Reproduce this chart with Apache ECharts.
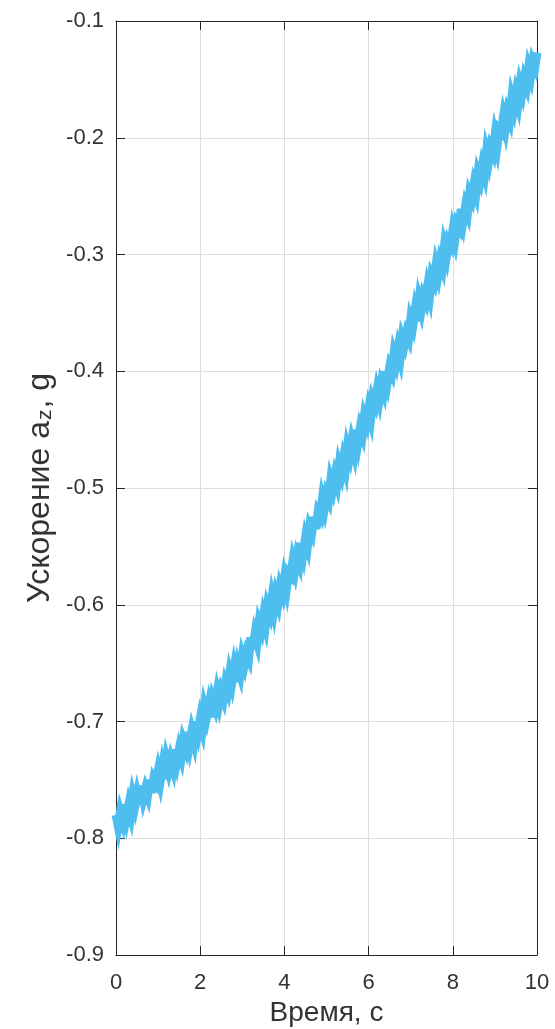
<!DOCTYPE html>
<html>
<head>
<meta charset="utf-8">
<script src="https://cdn.jsdelivr.net/npm/echarts@6/dist/echarts.min.js"></script>
<style>
html,body{margin:0;padding:0;background:#fff;}
#chart{width:555px;height:1029px;}
</style>
</head>
<body>
<div id="chart"></div>
<script>
// Time samples, s
var time = [0,0.05,0.1,0.15,0.2,0.25,0.3,0.35,0.4,0.45,0.5,0.55,0.6,0.65,0.7,0.75,0.8,0.85,0.9,0.95,
1,1.05,1.1,1.15,1.2,1.25,1.3,1.35,1.4,1.45,1.5,1.55,1.6,1.65,1.7,1.75,1.8,1.85,1.9,1.95,
2,2.05,2.1,2.15,2.2,2.25,2.3,2.35,2.4,2.45,2.5,2.55,2.6,2.65,2.7,2.75,2.8,2.85,2.9,2.95,
3,3.05,3.1,3.15,3.2,3.25,3.3,3.35,3.4,3.45,3.5,3.55,3.6,3.65,3.7,3.75,3.8,3.85,3.9,3.95,
4,4.05,4.1,4.15,4.2,4.25,4.3,4.35,4.4,4.45,4.5,4.55,4.6,4.65,4.7,4.75,4.8,4.85,4.9,4.95,
5,5.05,5.1,5.15,5.2,5.25,5.3,5.35,5.4,5.45,5.5,5.55,5.6,5.65,5.7,5.75,5.8,5.85,5.9,5.95,
6,6.05,6.1,6.15,6.2,6.25,6.3,6.35,6.4,6.45,6.5,6.55,6.6,6.65,6.7,6.75,6.8,6.85,6.9,6.95,
7,7.05,7.1,7.15,7.2,7.25,7.3,7.35,7.4,7.45,7.5,7.55,7.6,7.65,7.7,7.75,7.8,7.85,7.9,7.95,
8,8.05,8.1,8.15,8.2,8.25,8.3,8.35,8.4,8.45,8.5,8.55,8.6,8.65,8.7,8.75,8.8,8.85,8.9,8.95,
9,9.05,9.1,9.15,9.2,9.25,9.3,9.35,9.4,9.45,9.5,9.55,9.6,9.65,9.7,9.75,9.8,9.85,9.9,9.95,10];

// Acceleration a_z, g (noisy trace)
var accel = [-0.780,-0.789,-0.778,-0.784,-0.771,-0.781,-0.772,-0.779,-0.765,-0.772,
-0.763,-0.771,-0.755,-0.765,-0.758,-0.763,-0.750,-0.761,-0.749,-0.752,
-0.743,-0.751,-0.740,-0.749,-0.734,-0.741,-0.733,-0.739,-0.724,-0.733,
-0.724,-0.730,-0.717,-0.722,-0.709,-0.719,-0.709,-0.716,-0.700,-0.708,
-0.698,-0.705,-0.689,-0.696,-0.687,-0.696,-0.682,-0.687,-0.676,-0.684,
-0.675,-0.680,-0.668,-0.673,-0.660,-0.667,-0.656,-0.666,-0.653,-0.659,
-0.645,-0.651,-0.642,-0.646,-0.628,-0.638,-0.626,-0.632,-0.616,-0.621,
-0.610,-0.617,-0.602,-0.607,-0.595,-0.604,-0.592,-0.598,-0.585,-0.590,
-0.578,-0.586,-0.573,-0.575,-0.563,-0.570,-0.559,-0.564,-0.547,-0.555,
-0.543,-0.549,-0.534,-0.538,-0.525,-0.535,-0.521,-0.524,-0.510,-0.517,
-0.506,-0.510,-0.494,-0.500,-0.490,-0.496,-0.481,-0.487,-0.476,-0.483,
-0.466,-0.472,-0.461,-0.468,-0.450,-0.460,-0.449,-0.454,-0.439,-0.444,
-0.433,-0.440,-0.424,-0.428,-0.417,-0.424,-0.412,-0.417,-0.400,-0.408,
-0.397,-0.401,-0.386,-0.392,-0.381,-0.388,-0.372,-0.377,-0.368,-0.372,
-0.356,-0.361,-0.349,-0.357,-0.340,-0.347,-0.336,-0.340,-0.328,-0.335,
-0.319,-0.323,-0.310,-0.317,-0.306,-0.311,-0.294,-0.301,-0.289,-0.292,
-0.280,-0.287,-0.274,-0.277,-0.261,-0.270,-0.259,-0.264,-0.248,-0.252,
-0.241,-0.247,-0.231,-0.236,-0.225,-0.231,-0.213,-0.220,-0.209,-0.213,
-0.199,-0.207,-0.193,-0.195,-0.183,-0.191,-0.179,-0.184,-0.167,-0.174,
-0.163,-0.170,-0.155,-0.161,-0.150,-0.155,-0.141,-0.147,-0.135,-0.139,
-0.127];

var xTicks = {min: 0, max: 10, interval: 2};
var yTicks = {min: -0.9, max: -0.1, interval: 0.1};
var xName = 'Время, с';
var yName = '{a|Ускорение a}{s|z}{a|, g}';

var axisColor = '#262626';
var labelColor = '#333333';
var font = '"Liberation Sans", Arial, Helvetica, sans-serif';

var chart = echarts.init(document.getElementById('chart'), null, {renderer: 'canvas'});

function baseAxisLine() {
  return {show: true, onZero: false, lineStyle: {color: axisColor, width: 1}};
}

var option = {
  animation: false,
  backgroundColor: '#ffffff',
  grid: {left: 116, top: 21, right: 18, bottom: 74, containLabel: false, outerBoundsMode: 'none'},
  xAxis: [{
    type: 'value',
    position: 'bottom',
    min: xTicks.min, max: xTicks.max, interval: xTicks.interval,
    name: xName,
    nameLocation: 'middle',
    nameGap: 44,
    nameMoveOverlap: false,
    nameTextStyle: {fontSize: 28, color: labelColor, fontFamily: font},
    axisLine: baseAxisLine(),
    axisTick: {show: true, inside: true, length: 9, lineStyle: {color: axisColor, width: 1}},
    axisLabel: {show: true, margin: 17, fontSize: 22, color: labelColor, fontFamily: font},
    splitLine: {show: true, lineStyle: {color: '#dedede', width: 1}}
  }, {
    type: 'value',
    position: 'top',
    min: xTicks.min, max: xTicks.max, interval: xTicks.interval,
    axisLine: baseAxisLine(),
    axisTick: {show: true, inside: true, length: 9, lineStyle: {color: axisColor, width: 1}},
    axisLabel: {show: false},
    splitLine: {show: false}
  }],
  yAxis: [{
    type: 'value',
    position: 'left',
    min: yTicks.min, max: yTicks.max, interval: yTicks.interval,
    name: yName,
    nameLocation: 'middle',
    nameGap: 60,
    nameMoveOverlap: false,
    nameTextStyle: {
      color: labelColor, fontFamily: font, fontSize: 32,
      rich: {
        a: {fontSize: 32, lineHeight: 32, color: labelColor, fontFamily: font, verticalAlign: 'top', padding: [0, 0, 10, 0]},
        s: {fontSize: 21, lineHeight: 21, color: labelColor, fontFamily: font, verticalAlign: 'bottom', padding: [0, 1, 0, 1]}
      }
    },
    axisLine: baseAxisLine(),
    axisTick: {show: true, inside: true, length: 9, lineStyle: {color: axisColor, width: 1}},
    axisLabel: {show: true, margin: 12, fontSize: 22, color: labelColor, fontFamily: font,
      formatter: function (v) { return (Math.round(v * 10) / 10).toString(); }},
    splitLine: {show: true, lineStyle: {color: '#dedede', width: 1}}
  }, {
    type: 'value',
    position: 'right',
    min: yTicks.min, max: yTicks.max, interval: yTicks.interval,
    axisLine: baseAxisLine(),
    axisTick: {show: true, inside: true, length: 9, lineStyle: {color: axisColor, width: 1}},
    axisLabel: {show: false},
    splitLine: {show: false}
  }],
  series: [{
    type: 'line',
    xAxisIndex: 0,
    yAxisIndex: 0,
    data: time.map(function (t, i) { return [t, accel[i]]; }),
    showSymbol: false,
    symbol: 'none',
    clip: true,
    z: 5,
    lineStyle: {color: '#4DBEEE', width: 9, join: 'miter', miterLimit: 6}
  }]
};

chart.setOption(option);
</script>
</body>
</html>
